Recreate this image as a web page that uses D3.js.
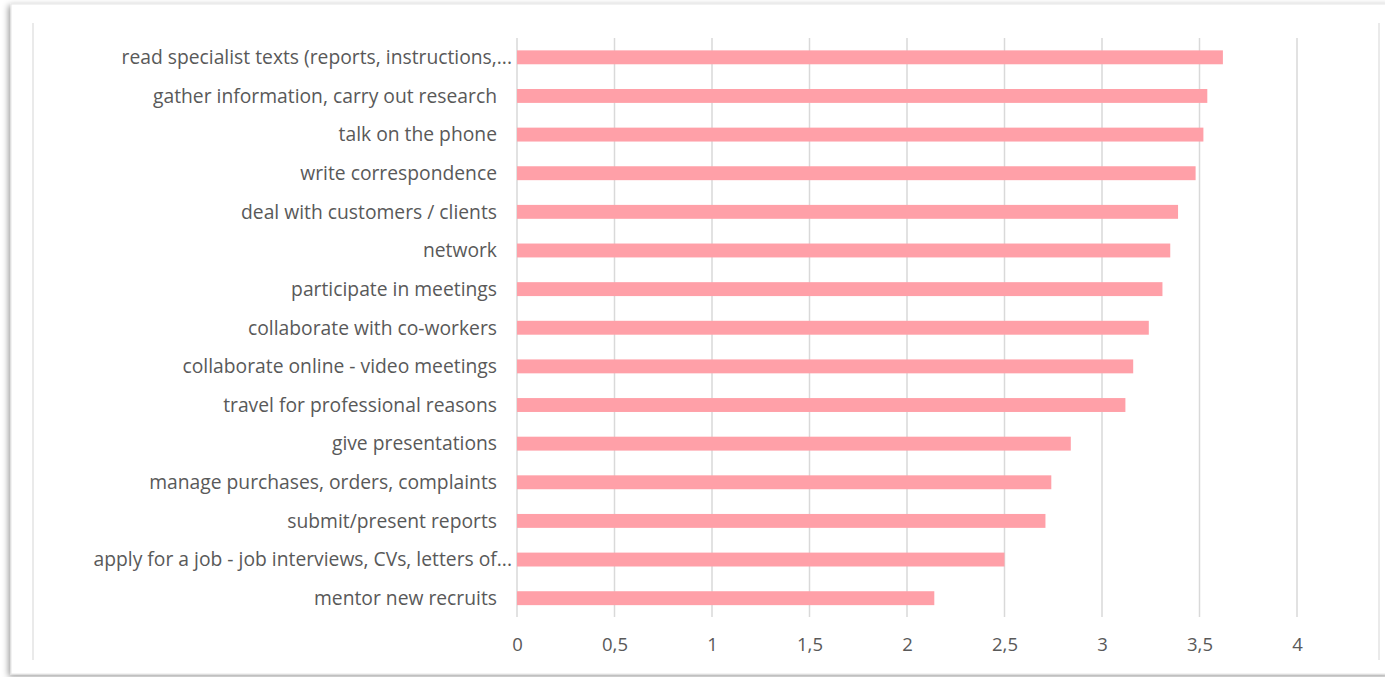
<!DOCTYPE html>
<html>
<head>
<meta charset="utf-8">
<script src="https://cdn.jsdelivr.net/npm/d3@7"></script>
<style>
  body { margin: 0; background: #fff; }
  svg text { font-family: "Open Sans", "Liberation Sans", sans-serif; fill: #595959; }
</style>
</head>
<body>
<svg id="chart" width="1385" height="677"></svg>
<script>
// data
var tasks = [
  "read specialist texts (reports, instructions,...",
  "gather information, carry out research",
  "talk on the phone",
  "write correspondence",
  "deal with customers / clients",
  "network",
  "participate in meetings",
  "collaborate with co-workers",
  "collaborate online - video meetings",
  "travel for professional reasons",
  "give presentations",
  "manage purchases, orders, complaints",
  "submit/present reports",
  "apply for a job - job interviews, CVs, letters of...",
  "mentor new recruits"
];
var scores = [3.62, 3.54, 3.52, 3.48, 3.39, 3.35, 3.31, 3.24, 3.16, 3.12, 2.84, 2.74, 2.71, 2.50, 2.14];
var tickValues = [0, 0.5, 1, 1.5, 2, 2.5, 3, 3.5, 4];

var svg = d3.select("#chart");

// card frame with shadow
var defs = svg.append("defs");
var f = defs.append("filter").attr("id", "shadow").attr("x", "-5%").attr("y", "-5%").attr("width", "110%").attr("height", "110%");
f.append("feDropShadow").attr("dx", -2).attr("dy", 2).attr("stdDeviation", 3).attr("flood-color", "#000").attr("flood-opacity", 0.4);

svg.append("rect")
  .attr("x", 11).attr("y", 4).attr("width", 1380).attr("height", 670)
  .attr("fill", "#fff").attr("stroke", "#e6e6e6").attr("filter", "url(#shadow)");

// inner chart area lines
svg.append("line").attr("x1", 33).attr("x2", 33).attr("y1", 23).attr("y2", 660)
  .attr("stroke", "#e3e3e3").attr("stroke-width", 1.5);
svg.append("line").attr("x1", 1379).attr("x2", 1379).attr("y1", 23).attr("y2", 660)
  .attr("stroke", "#e3e3e3").attr("stroke-width", 1.5);

var x = d3.scaleLinear().domain([0, 4]).range([517, 1297]);
var y = d3.scaleBand().domain(tasks).range([38, 617.5]).paddingInner(0.64).paddingOuter(0.32);

// gridlines
svg.append("g").selectAll("line")
  .data(tickValues)
  .enter().append("line")
  .attr("x1", function(d){ return x(d); })
  .attr("x2", function(d){ return x(d); })
  .attr("y1", 38).attr("y2", 617)
  .attr("stroke", "#d9d9d9").attr("stroke-width", 1.5);

// bars
svg.append("g").selectAll("rect")
  .data(scores)
  .enter().append("rect")
  .attr("x", x(0))
  .attr("y", function(d, i){ return y(tasks[i]); })
  .attr("width", function(d){ return x(d) - x(0); })
  .attr("height", y.bandwidth())
  .attr("fill", "#ffa0a8");

// category labels
svg.append("g").selectAll("text")
  .data(tasks)
  .enter().append("text")
  .attr("x", function(d){ return d.slice(-3) === "..." ? 512 : 497; })
  .attr("y", function(d){ return y(d) + y.bandwidth() / 2; })
  .attr("dy", "0.35em")
  .attr("text-anchor", "end")
  .attr("font-size", 19.3)
  .text(function(d){ return d; });

// x tick labels
var xAxis = d3.axisBottom(x)
  .tickValues(tickValues)
  .tickSize(0)
  .tickPadding(0)
  .tickFormat(function(d){ return String(d).replace(".", ","); });

var gx = svg.append("g").attr("transform", "translate(0,638)").call(xAxis);
gx.select(".domain").remove();
gx.selectAll("text")
  .attr("font-size", 18.5)
  .style("font-family", "'Open Sans', 'Liberation Sans', sans-serif")
  .attr("fill", "#595959");
</script>
</body>
</html>
